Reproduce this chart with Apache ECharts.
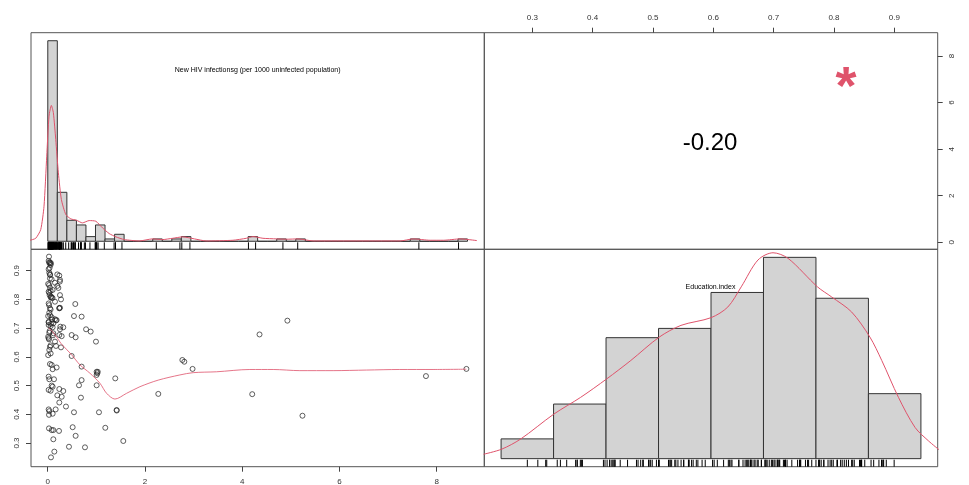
<!DOCTYPE html>
<html><head><meta charset="utf-8">
<script src="https://cdn.jsdelivr.net/npm/echarts@6/dist/echarts.min.js"></script>
<style>html,body{margin:0;padding:0;background:#fff}#c{width:969px;height:485px}</style>
</head><body><div id="c"></div>
<script>
// ---------- DATA ----------
const hivName = 'New HIV infectionsg (per 1000 uninfected population)';
const eduName = 'Education.index';
const corrValue = '-0.20';
const corrStars = '*';

const hivTickLabels = [0, 2, 4, 6, 8];
const hivRightTickLabels = [0, 2, 4, 6, 8];
const eduTickLabels = [0.3, 0.4, 0.5, 0.6, 0.7, 0.8, 0.9];

// HIV histogram: bins of 0.2 from 0 to 8.8 (counts)
const hivBinStart = 0;
const hivBinWidth = 0.2;
const hivCounts = [86, 21, 9, 7, 2, 7, 1, 3, 0, 0,
                   0, 1, 0, 1, 2, 0, 0, 0, 0, 0,
                   0, 2, 0, 0, 1, 0, 1, 0, 0, 0,
                   0, 0, 0, 0, 0, 0, 0, 0, 1, 0,
                   0, 0, 0, 1];

// Education histogram: breaks and densities
const eduBreaks = [0.2, 0.3, 0.4, 0.5, 0.6, 0.7, 0.8, 0.9, 1.0];
const eduDensity = [0.215, 0.594, 1.316, 1.417, 1.808, 2.19, 1.745, 0.707];

// kernel density curves
const hivDensX = [-0.373,-0.253,-0.148,-0.079,-0.022,0.026,0.075,0.117,0.167,0.222,0.285,0.378,0.483,0.601,0.727,0.867,1.008,1.147,1.288,1.429,1.603,1.919,2.198,2.409,2.619,2.829,3.075,3.321,3.881,4.162,4.302,4.511,4.793,5.003,5.247,5.563,7.386,7.665,8.016,8.296,8.647,8.998];
const hivDensY = [0.015,0.044,0.172,0.515,1.25,1.838,1.995,1.888,1.495,1.005,0.613,0.393,0.329,0.309,0.27,0.304,0.294,0.197,0.113,0.065,0.025,0.005,0.035,0.025,0.044,0.065,0.035,0.005,0.015,0.044,0.069,0.044,0.035,0.03,0.035,0.005,0.005,0.035,0.015,0.015,0.035,0.01];
const eduDensX = [0.1667,0.2011,0.2369,0.3006,0.3516,0.4013,0.4472,0.5013,0.5428,0.6002,0.6321,0.6576,0.6895,0.7182,0.7469,0.8029,0.8297,0.8679,0.9029,0.9254,0.9572,0.9889,1.0145,1.0356];
const eduDensY = [0.048,0.103,0.212,0.485,0.667,0.868,1.068,1.322,1.450,1.534,1.650,1.869,2.161,2.240,2.179,1.869,1.760,1.596,1.322,1.068,0.667,0.339,0.193,0.092];

// smoother in scatter panel
const smoothX = [0.02,0.1,0.2,0.273,0.493,0.664,0.869,1.075,1.212,1.383,1.623,1.897,2.274,2.719,2.994,3.473,4.158,4.638,5.186,5.871,6.556,7.241,7.926,8.611];
const smoothY = [0.70,0.688,0.665,0.647,0.607,0.572,0.543,0.508,0.473,0.453,0.473,0.496,0.519,0.537,0.545,0.548,0.556,0.556,0.552,0.552,0.554,0.556,0.556,0.557];

// paired observations (HIV, Education.index)
const hivX = [0.027,0.02,0.047,0.068,0.033,0.047,0.198,0.239,0.047,0.253,
0.15,0.198,0.01,0.047,0.102,0.02,0.033,0.253,0.274,0.061,
0.082,0.15,0.02,0.568,0.047,0.253,0.239,0.033,0.01,0.541,
0.698,0.082,0.15,0.184,0.02,0.116,0.02,0.061,0.102,0.321,
0.253,0.79,0.884,0.033,0.116,0.239,0.288,0.493,0.01,0.575,
0.027,0.15,0.993,0.171,0.274,0.047,0.033,0.061,0.01,0.493,
0.047,0.082,0.184,0.698,0.102,1.007,1.021,1.007,0.02,0.033,
0.13,1.39,0.698,1.007,0.644,0.082,0.102,0.02,0.061,0.239,
0.321,0.198,0.288,0.684,2.275,0.239,0.376,0.02,0.033,0.164,
0.541,1.055,1.418,0.102,0.027,0.514,0.027,0.082,0.116,0.233,
1.185,0.575,0.116,1.555,0.438,0.767,0.137,0.068,2.77,2.81,
2.98,4.207,4.357,4.93,5.24,7.78,8.612,1.03,
0.03,0.05,0.04,0.06,0.02,
0.05,0.08,0.03,0.06,0.04,0.07,0.25,0.22,0.1,
0.03,0.06,0.24,0.05,0.09,0.17,0.02,0.07,0.26,
0.04,0.11,0.02,0.06,
1.42];
const eduY = [0.949,0.934,0.929,0.926,0.893,0.887,0.887,0.883,0.873,0.868,
0.858,0.847,0.854,0.841,0.833,0.827,0.823,0.815,0.80,0.807,
0.806,0.792,0.786,0.784,0.769,0.771,0.769,0.754,0.742,0.742,
0.74,0.738,0.731,0.728,0.722,0.717,0.711,0.707,0.703,0.703,
0.696,0.696,0.688,0.684,0.682,0.676,0.672,0.676,0.67,0.668,
0.661,0.653,0.653,0.638,0.633,0.635,0.624,0.612,0.606,0.603,
0.575,0.572,0.563,0.566,0.557,0.548,0.543,0.537,0.531,0.522,
0.522,0.525,0.519,0.501,0.501,0.50,0.496,0.485,0.482,0.488,
0.481,0.466,0.461,0.458,0.471,0.441,0.427,0.417,0.411,0.417,
0.407,0.407,0.415,0.402,0.398,0.355,0.351,0.345,0.345,0.342,
0.353,0.325,0.313,0.307,0.287,0.285,0.27,0.25,0.589,0.583,
0.558,0.47,0.678,0.726,0.395,0.533,0.558,0.548,
0.928,0.925,0.91,0.92,0.905,
0.885,0.87,0.85,0.83,0.815,0.81,0.862,0.84,0.805,
0.78,0.765,0.77,0.745,0.73,0.727,0.72,0.715,0.705,
0.69,0.675,0.665,0.64,
0.413];

// ---------- BUILD ----------
const RED = '#DF536B';
const FONT = 'Liberation Sans, Arial, sans-serif';
const nObs = hivCounts.reduce((a, b) => a + b, 0);
const hivDens = hivCounts.map(c => c / (nObs * hivBinWidth));
const hivHistMax = Math.max(...hivDens);
const eduHistMax = Math.max(...eduDensity);
const hivBreakMax = hivBinStart + hivCounts.length * hivBinWidth;
const hivHistYMin = -0.04 * hivHistMax;
const eduHistYMin = -0.04 * eduHistMax;

const hivBars = hivCounts.map((c, i) => [hivBinStart + i * hivBinWidth, hivBinStart + (i + 1) * hivBinWidth, hivDens[i]]);
const eduBars = eduDensity.map((d, i) => [eduBreaks[i], eduBreaks[i + 1], d]);

function histItem(params, api) {
  const p0 = api.coord([api.value(0), 0]);
  const p1 = api.coord([api.value(1), api.value(2)]);
  return { type: 'rect', shape: { x: p0[0], y: p1[1], width: p1[0] - p0[0], height: p0[1] - p1[1] },
           style: { fill: '#d3d3d3', stroke: '#333', lineWidth: 1 } };
}
function rugItem(yMin) {
  return function (params, api) {
    const p = api.coord([api.value(0), yMin]);
    return { type: 'line', shape: { x1: p[0], y1: p[1], x2: p[0], y2: p[1] - 7 },
             style: { stroke: '#000', lineWidth: 1 } };
  };
}

const L = 31, M = 484.3, R = 937.7, T = 32.7, H = 249.3, B = 466.7;
const gridBase = { show: true, borderColor: '#555', borderWidth: 1, backgroundColor: 'transparent', containLabel: false, outerBoundsMode: 'none' };
const grids = [
  Object.assign({ left: L, top: T, width: M - L, height: H - T }, gridBase),
  Object.assign({ left: M, top: T, width: R - M, height: H - T }, gridBase),
  Object.assign({ left: L, top: H, width: M - L, height: B - H }, gridBase),
  Object.assign({ left: M, top: H, width: R - M, height: B - H }, gridBase)
];
const hiddenAxis = (gi, min, max) => ({ type: 'value', gridIndex: gi, min, max, show: false, splitLine: { show: false } });
const labelStyle = { fontSize: 8, color: '#333', fontFamily: FONT };
const noLine = { show: false, onZero: false };

const option = {
  animation: false,
  backgroundColor: '#fff',
  grid: grids,
  xAxis: [
    hiddenAxis(0, hivBinStart - 0.04 * (hivBreakMax - hivBinStart), hivBreakMax + 0.04 * (hivBreakMax - hivBinStart)),
    { type: 'value', gridIndex: 1, position: 'top', min: 0.2204, max: 0.972,
      axisLine: noLine, splitLine: { show: false },
      axisTick: { show: true, inside: false, length: 5, customValues: eduTickLabels, lineStyle: { color: '#444' } },
      axisLabel: Object.assign({ customValues: eduTickLabels, margin: 11, formatter: v => String(v) }, labelStyle) },
    { type: 'value', gridIndex: 2, position: 'bottom', min: -0.343, max: 8.98,
      axisLine: noLine, splitLine: { show: false },
      axisTick: { show: true, inside: false, length: 5, customValues: hivTickLabels, lineStyle: { color: '#444' } },
      axisLabel: Object.assign({ customValues: hivTickLabels, margin: 11, formatter: v => String(v) }, labelStyle) },
    hiddenAxis(3, eduBreaks[0] - 0.04 * (eduBreaks[eduBreaks.length - 1] - eduBreaks[0]), eduBreaks[eduBreaks.length - 1] + 0.04 * (eduBreaks[eduBreaks.length - 1] - eduBreaks[0]))
  ],
  yAxis: [
    hiddenAxis(0, hivHistYMin, hivHistMax * 1.04),
    { type: 'value', gridIndex: 1, position: 'right', min: -0.30, max: 9.0,
      axisLine: noLine, splitLine: { show: false },
      axisTick: { show: true, inside: false, length: 5, customValues: hivRightTickLabels, lineStyle: { color: '#444' } },
      axisLabel: Object.assign({ customValues: hivRightTickLabels, margin: 10, rotate: 90, formatter: v => String(v) }, labelStyle) },
    { type: 'value', gridIndex: 2, position: 'left', min: 0.2175, max: 0.9745,
      axisLine: noLine, splitLine: { show: false },
      axisTick: { show: true, inside: false, length: 5, customValues: eduTickLabels, lineStyle: { color: '#444' } },
      axisLabel: Object.assign({ customValues: eduTickLabels, margin: 10, rotate: 90, formatter: v => String(v) }, labelStyle) },
    hiddenAxis(3, eduHistYMin, eduHistMax * 1.04)
  ],
  series: [
    { type: 'custom', xAxisIndex: 0, yAxisIndex: 0, data: hivBars, renderItem: histItem, silent: true, clip: true },
    { type: 'line', xAxisIndex: 0, yAxisIndex: 0, data: hivDensX.map((x, i) => [x, hivDensY[i]]), showSymbol: false,
      smooth: 0.2, lineStyle: { color: RED, width: 1 }, clip: true, silent: true },
    { type: 'custom', xAxisIndex: 0, yAxisIndex: 0, data: hivX.map(v => [v]), renderItem: rugItem(hivHistYMin), silent: true },

    { type: 'scatter', xAxisIndex: 2, yAxisIndex: 2, data: hivX.map((x, i) => [x, eduY[i]]), symbol: 'circle', symbolSize: 5,
      itemStyle: { color: 'rgba(255,255,255,0)', borderColor: '#222', borderWidth: 0.9 }, silent: true },
    { type: 'line', xAxisIndex: 2, yAxisIndex: 2, data: smoothX.map((x, i) => [x, smoothY[i]]), showSymbol: false,
      smooth: 0.3, lineStyle: { color: RED, width: 1, opacity: 0.8 }, silent: true },

    { type: 'custom', xAxisIndex: 3, yAxisIndex: 3, data: eduBars, renderItem: histItem, silent: true },
    { type: 'line', xAxisIndex: 3, yAxisIndex: 3, data: eduDensX.map((x, i) => [x, eduDensY[i]]), showSymbol: false,
      smooth: 0.3, lineStyle: { color: RED, width: 1 }, clip: true, silent: true },
    { type: 'custom', xAxisIndex: 3, yAxisIndex: 3, data: eduY.map(v => [v]), renderItem: rugItem(eduHistYMin), silent: true }
  ],
  graphic: [
    { type: 'text', x: (L + M) / 2, y: 70, style: { text: hivName, fill: '#000', font: '7px ' + FONT, align: 'center', verticalAlign: 'middle' } },
    { type: 'text', x: (M + R) / 2 - 0.5, y: 286.7, style: { text: eduName, fill: '#000', font: '7px ' + FONT, align: 'center', verticalAlign: 'middle' } },
    { type: 'text', x: 710, y: 143.5, style: { text: corrValue, fill: '#000', font: '24px ' + FONT, align: 'center', verticalAlign: 'middle' } },
    { type: 'text', x: 846, y: 89, style: { text: corrStars, fill: RED, font: 'bold 54px ' + FONT, align: 'center', verticalAlign: 'middle' } }
  ]
};

const chart = echarts.init(document.getElementById('c'), null, { renderer: 'canvas' });
chart.setOption(option);
</script>
</body></html>
